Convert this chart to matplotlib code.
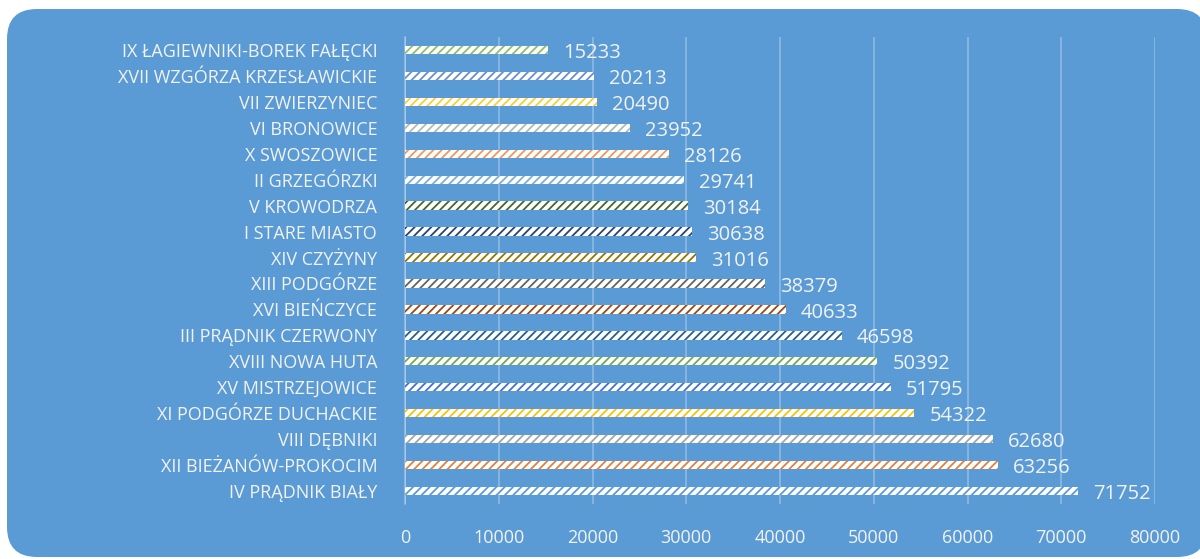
import matplotlib.pyplot as plt
from matplotlib.patches import FancyBboxPatch

# districts from bottom (largest) to top (smallest)
districts = [
    "IV PRĄDNIK BIAŁY",
    "XII BIEŻANÓW-PROKOCIM",
    "VIII DĘBNIKI",
    "XI PODGÓRZE DUCHACKIE",
    "XV MISTRZEJOWICE",
    "XVIII NOWA HUTA",
    "III PRĄDNIK CZERWONY",
    "XVI BIEŃCZYCE",
    "XIII PODGÓRZE",
    "XIV CZYŻYNY",
    "I STARE MIASTO",
    "V KROWODRZA",
    "II GRZEGÓRZKI",
    "X SWOSZOWICE",
    "VI BRONOWICE",
    "VII ZWIERZYNIEC",
    "XVII WZGÓRZA KRZESŁAWICKIE",
    "IX ŁAGIEWNIKI-BOREK FAŁĘCKI",
]
population = [71752, 63256, 62680, 54322, 51795, 50392, 46598, 40633, 38379,
              31016, 30638, 30184, 29741, 28126, 23952, 20490, 20213, 15233]
bar_colors = ["#5B9BD5", "#ED7D31", "#A5A5A5", "#FFC000", "#4472C4", "#70AD47",
              "#255E91", "#9E480E", "#636363", "#997300", "#264478", "#43682B",
              "#7CAFDD", "#F1975A", "#B7B7B7", "#FFCD33", "#698ED0", "#8CC168"]
xticks = [0, 10000, 20000, 30000, 40000, 50000, 60000, 70000, 80000]

txt = "#F2F2F2"
plt.rcParams['font.family'] = ['Open Sans', 'DejaVu Sans']
plt.rcParams['hatch.linewidth'] = 1.3

fig = plt.figure(figsize=(12, 5.59), dpi=100)
fig.patch.set_facecolor("white")

# rounded blue background panel
bg = FancyBboxPatch((7 / 1200, 2 / 559), 1200 / 1200, (550 - 2) / 559,
                    boxstyle="round,pad=0,rounding_size=0.025",
                    transform=fig.transFigure, facecolor="#5B9BD5",
                    edgecolor="none", mutation_aspect=1200 / 559, zorder=-5)
fig.patches.append(bg)

ax = fig.add_axes([405 / 1200, 1 - 504 / 559, 750 / 1200, 467 / 559])
ax.set_facecolor("none")
ax.set_zorder(2)

ypos = list(range(len(districts)))
bars = ax.barh(ypos, population, height=0.32, color="white",
               edgecolor=bar_colors, linewidth=0, hatch="////", zorder=3)

for y, v in zip(ypos, population):
    ax.text(v + 1600, y - 0.12, str(v), color=txt, fontsize=14.5,
            va="center", ha="left")

ax.set_xlim(0, 80000)
ax.set_ylim(-0.5, len(districts) - 0.5)
ax.set_xticks(xticks)
ax.set_xticklabels([str(t) for t in xticks], color=txt, fontsize=13)
ax.set_yticks(ypos)
ax.set_yticklabels(districts, color=txt, fontsize=13)
ax.tick_params(axis="x", length=0, pad=18)
ax.tick_params(axis="y", length=0, pad=20)

ax.grid(axis="x", color="white", alpha=0.3, linewidth=1.2, zorder=0)
for s in ["top", "right", "bottom"]:
    ax.spines[s].set_visible(False)
ax.spines["left"].set_color((1, 1, 1, 0.35))
ax.spines["left"].set_linewidth(1.2)

plt.savefig("out.png", dpi=100, facecolor="white")
plt.close()
